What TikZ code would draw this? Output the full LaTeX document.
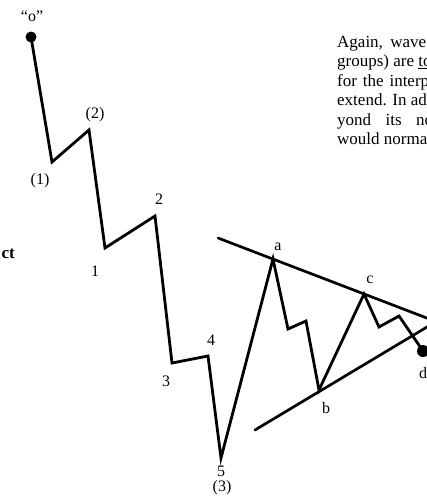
\documentclass[tikz,border=0pt]{standalone}
\usepackage{fontspec}
\setmainfont{Liberation Serif}
\usetikzlibrary{positioning}

\begin{document}
\begin{tikzpicture}[x=1pt, y=-1pt, font=\fontsize{16}{19}\selectfont,
    wave/.style={line width=2.8pt, line join=miter, line cap=round},
    trend/.style={line width=2.7pt, line cap=round},
    lbl/.style={inner sep=0pt},
    para/.style={inner sep=0pt, anchor=base west, font=\fontsize{17}{19.5}\selectfont}]
\useasboundingbox (0,0) rectangle (427,499);
\clip (0,0) rectangle (427,499);
% wave points
\coordinate (o) at (31,37);
\coordinate (w1) at (52,162);
\coordinate (w2) at (89,130);
\coordinate (s1) at (105,248);
\coordinate (s2) at (155,216);
\coordinate (s3) at (172,363);
\coordinate (s4) at (208,356);
\coordinate (s5) at (221,458);
\coordinate (a) at (273,259);
\coordinate (a1) at (288,329);
\coordinate (a2) at (306,321);
\coordinate (b) at (319,390);
\coordinate (c) at (364,294);
\coordinate (c1) at (379,327);
\coordinate (c2) at (399,316);
\coordinate (d) at (423,351);
% trend lines
\coordinate (ul) at (218,238);
\coordinate (ur) at (432,320);
\coordinate (ll) at (255,430);
\coordinate (lr) at (432,324);
\draw[trend] (ul) -- (ur);
\draw[trend] (ll) -- (lr);
\draw[wave] (o) -- (w1) -- (w2) -- (s1) -- (s2) -- (s3) -- (s4) -- (s5) -- (a) -- (a1) -- (a2) -- (b) -- (c) -- (c1) -- (c2) -- (d);
\fill (o) circle (5.5);
\fill (d) circle (6);
% labels
\node[lbl] (lo) at (32,16) {“o”};
\node[lbl] (l1p) at (40,181) {(1)};
\node[lbl] (l2p) at (95,115) {(2)};
\node[lbl] (l1) at (95,271) {1};
\node[lbl] (l2) at (159,199) {2};
\node[lbl] (l3) at (166,381) {3};
\node[lbl] (l4) at (211,340) {4};
\node[lbl] (l5) at (221,471) {5};
\node[lbl] (l3p) at (222,488) {(3)};
\node[lbl] (la) at (278,247) {a};
\node[lbl] (lb) at (326,408) {b};
\node[lbl] (lc) at (370,280) {c};
\node[lbl] (ld) at (423,373) {d};
% text running off the page
\node[lbl, anchor=base east, font=\fontsize{17}{19}\selectfont\bfseries] (ct) at (15,258) {ct};
\node[para] (t1) at (337,47) {\makebox[89pt][s]{Again, wave}};
\node[para] (t2) at (337,66.5) {groups) are \underline{to}};
\node[para] (t3) at (337,86) {\makebox[92pt][s]{for the interp}};
\node[para] (t4) at (337,105.5) {extend. In ad};
\node[para] (t5) at (337,125) {\makebox[96pt][s]{yond its no}};
\node[para] (t6) at (337,144.5) {would norma};
\end{tikzpicture}
\end{document}
